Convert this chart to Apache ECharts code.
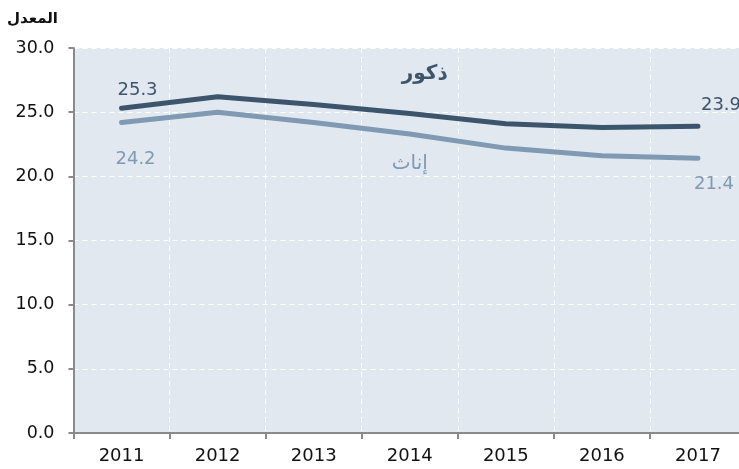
<!DOCTYPE html>
<html>
<head>
<meta charset="utf-8">
<script src="https://cdn.jsdelivr.net/npm/echarts@6/dist/echarts.min.js"></script>
<style>
  html, body { margin: 0; padding: 0; background: #fff; }
  #chart { width: 739px; height: 469px; }
</style>
</head>
<body>
<div id="chart"></div>
<script>
// البيانات
var years = ['2011', '2012', '2013', '2014', '2015', '2016', '2017'];
var males = [25.3, 26.2, 25.6, 24.9, 24.1, 23.8, 23.9];
var females = [24.2, 25.0, 24.2, 23.3, 22.2, 21.6, 21.4];
var yTicks = [0, 5, 10, 15, 20, 25, 30];

var maleColor = '#3d556c';
var femaleColor = '#7f9ab2';
var numFont = 'DejaVu Sans';

// label on first and last point only
function withLabels(values, color, firstOffset, lastOffset) {
    return values.map(function (v, i) {
        var item = { value: v };
        if (i === 0 || i === values.length - 1) {
            item.label = {
                show: true,
                position: 'inside',
                offset: i === 0 ? firstOffset : lastOffset,
                formatter: function (p) { return p.value.toFixed(1); },
                color: color,
                fontSize: 18,
                fontFamily: numFont
            };
        }
        return item;
    });
}

var myChart = echarts.init(document.getElementById('chart'));

myChart.setOption({
    animation: false,
    title: {
        text: 'المعدل',
        left: 2,
        top: 7,
        textStyle: {
            fontFamily: 'DejaVu Sans',
            fontWeight: 'bold',
            fontSize: 15,
            color: '#111'
        }
    },
    grid: {
        left: 73.5,
        top: 48,
        bottom: 36,
        width: 672.5,
        outerBoundsMode: 'none',
        containLabel: false,
        show: true,
        backgroundColor: '#e1e8ef',
        borderWidth: 0
    },
    xAxis: {
        type: 'category',
        data: years,
        boundaryGap: true,
        axisLine: { lineStyle: { color: '#8a8a8a', width: 2 } },
        axisTick: { show: true, length: 6, lineStyle: { color: '#8a8a8a', width: 2 } },
        axisLabel: { color: '#111', fontSize: 18, fontFamily: numFont, margin: 14 },
        splitLine: { show: true, lineStyle: { color: '#ffffff', type: [5, 4], width: 1 } }
    },
    yAxis: {
        type: 'value',
        min: yTicks[0],
        max: yTicks[yTicks.length - 1],
        interval: 5,
        axisLine: { show: true, lineStyle: { color: '#8a8a8a', width: 2 } },
        axisTick: { show: true, length: 5, lineStyle: { color: '#8a8a8a', width: 2 } },
        axisLabel: {
            color: '#111', fontSize: 17.5, fontFamily: numFont, margin: 19,
            formatter: function (v) { return v.toFixed(1); }
        },
        splitLine: { show: true, lineStyle: { color: '#ffffff', type: [5, 4], width: 1 } }
    },
    series: [
        {
            name: 'ذكور',
            type: 'line',
            data: withLabels(males, maleColor, [16, -18], [23, -21]),
            symbol: 'circle',
            symbolSize: 1,
            showSymbol: true,
            lineStyle: { color: maleColor, width: 5, cap: 'round' },
            itemStyle: { color: maleColor },
            z: 3,
            markPoint: {
                symbol: 'circle',
                symbolSize: 0,
                label: {
                    show: true,
                    position: 'inside',
                    formatter: 'ذكور',
                    color: maleColor,
                    fontFamily: 'DejaVu Sans',
                    fontWeight: 'bold',
                    fontSize: 20
                },
                data: [{ coord: ['2014', 28.0], label: { offset: [15, 0] } }]
            }
        },
        {
            name: 'إناث',
            type: 'line',
            data: withLabels(females, femaleColor, [14, 37], [16, 26]),
            symbol: 'circle',
            symbolSize: 1,
            showSymbol: true,
            lineStyle: { color: femaleColor, width: 5, cap: 'round' },
            itemStyle: { color: femaleColor },
            z: 2,
            markPoint: {
                symbol: 'circle',
                symbolSize: 0,
                label: {
                    show: true,
                    position: 'inside',
                    formatter: 'إناث',
                    color: femaleColor,
                    fontFamily: 'DejaVu Sans',
                    fontSize: 20
                },
                data: [{ coord: ['2014', 20.95], label: { offset: [0, 0] } }]
            }
        }
    ]
});
</script>
</body>
</html>
